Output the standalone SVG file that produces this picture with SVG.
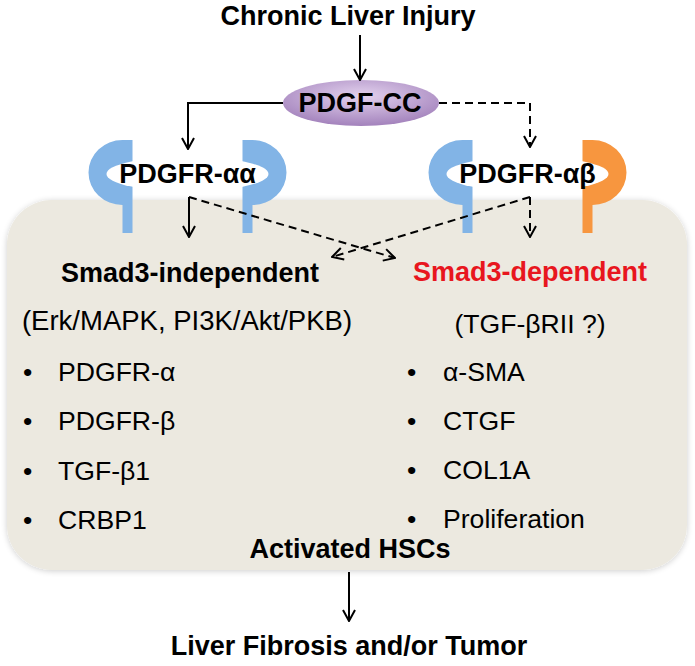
<svg xmlns="http://www.w3.org/2000/svg" width="695" height="666" viewBox="0 0 695 666">
<defs>
<style>
.b{font-family:"Liberation Sans",Arial,sans-serif;font-weight:bold;font-size:27px;fill:#000}
.r{font-family:"Liberation Sans",Arial,sans-serif;font-size:26.6px;fill:#000}
.red{fill:#E8161E}
.ln{fill:none;stroke:#000;stroke-width:2}
.ds{stroke-dasharray:8 5}
.blue{fill:#82B4E6}
.orange{fill:#F7963F}
</style>
<marker id="ah" viewBox="-13 -7 14 14" refX="0" refY="0" markerWidth="14" markerHeight="14" markerUnits="userSpaceOnUse" orient="auto"><path d="M-11,-6 L0,0 L-11,6" fill="none" stroke="#000" stroke-width="2" stroke-dasharray="none"/></marker>
<radialGradient id="pg" cx="50%" cy="35%" r="65%"><stop offset="0" stop-color="#E3D2EE"/><stop offset="1" stop-color="#A382BC"/></radialGradient>
<filter id="sh" x="-5%" y="-5%" width="110%" height="110%"><feGaussianBlur in="SourceAlpha" stdDeviation="3"/><feOffset dx="0" dy="1"/><feComponentTransfer><feFuncA type="linear" slope="0.2"/></feComponentTransfer><feMerge><feMergeNode/><feMergeNode in="SourceGraphic"/></feMerge></filter>
</defs>

<g id="hsc-box">
<rect x="7" y="200" width="680" height="370" rx="45" fill="#ECE9E0" filter="url(#sh)"/>
</g>

<g id="title"><text class="b" x="348" y="25" text-anchor="middle">Chronic Liver Injury</text></g>

<g id="pdgf-cc">
<ellipse cx="361" cy="103" rx="78" ry="23" fill="url(#pg)"/>
<text class="b" x="360" y="112" text-anchor="middle">PDGF-CC</text>
</g>

<g id="pdgfr-aa" transform="translate(187.5,0)">
<path class="blue" d="M-65,140 A34,32.5 0 0 0 -65,205 L-65,233 L-55,233 L-55,140 Z"/>
<path class="blue" d="M65,140 A34,32.5 0 0 1 65,205 L65,233 L55,233 L55,140 Z"/>
<ellipse cx="0" cy="174" rx="81" ry="17.5" fill="#fff"/>
<text class="b" x="0" y="183" text-anchor="middle">PDGFR-αα</text>
</g>

<g id="pdgfr-ab" transform="translate(527.5,0)">
<path class="blue" d="M-65,140 A34,32.5 0 0 0 -65,205 L-65,233 L-55,233 L-55,140 Z"/>
<path class="orange" d="M65,140 A34,32.5 0 0 1 65,205 L65,233 L55,233 L55,140 Z"/>
<ellipse cx="0" cy="174" rx="81" ry="17.5" fill="#fff"/>
<text class="b" x="0" y="183" text-anchor="middle">PDGFR-αβ</text>
</g>

<g id="smad3-independent">
<text class="b" x="190" y="282" text-anchor="middle">Smad3-independent</text>
<text class="r" x="187" y="330" text-anchor="middle" style="font-size:27.5px">(Erk/MAPK, PI3K/Akt/PKB)</text>
<text class="r" x="23" y="381">•</text><text class="r" x="58" y="381">PDGFR-α</text>
<text class="r" x="23" y="430">•</text><text class="r" x="58" y="430">PDGFR-β</text>
<text class="r" x="23" y="480">•</text><text class="r" x="58" y="480">TGF-β1</text>
<text class="r" x="23" y="529">•</text><text class="r" x="58" y="529">CRBP1</text>
</g>

<g id="smad3-dependent">
<text class="b red" x="530" y="281" text-anchor="middle">Smad3-dependent</text>
<text class="r" x="530" y="333" text-anchor="middle">(TGF-βRII ?)</text>
<text class="r" x="407" y="381">•</text><text class="r" x="443" y="381">α-SMA</text>
<text class="r" x="407" y="430">•</text><text class="r" x="443" y="430">CTGF</text>
<text class="r" x="407" y="479">•</text><text class="r" x="443" y="479">COL1A</text>
<text class="r" x="407" y="528">•</text><text class="r" x="443" y="528">Proliferation</text>
</g>

<g id="activated-hscs"><text class="b" x="350" y="558" text-anchor="middle">Activated HSCs</text></g>

<g id="outcome"><text class="b" x="349" y="655" text-anchor="middle">Liver Fibrosis and/or Tumor</text></g>

<g id="connectors">
<path class="ln" d="M360,35 L360,80" marker-end="url(#ah)"/>
<path class="ln" d="M283,103 L188,103 L188,149" marker-end="url(#ah)"/>
<path class="ln ds" d="M439,103 L530,103 L530,147" marker-end="url(#ah)"/>
<path class="ln" d="M189,197 L189,237" marker-end="url(#ah)"/>
<path class="ln ds" d="M189,197 L395,258" marker-end="url(#ah)"/>
<path class="ln ds" d="M530,197 L530,237" marker-end="url(#ah)"/>
<path class="ln ds" d="M530,197 L332,257" marker-end="url(#ah)"/>
<path class="ln" d="M349,572 L349,621" marker-end="url(#ah)"/>
</g>
</svg>
